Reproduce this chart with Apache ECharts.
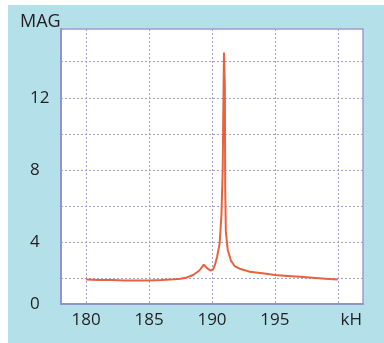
<!DOCTYPE html>
<html><head><meta charset="utf-8">
<script src="https://cdn.jsdelivr.net/npm/echarts@6/dist/echarts.min.js"></script>
<style>
html,body{margin:0;padding:0;background:#ffffff;}
#c{position:absolute;left:8px;top:5px;width:376px;height:338px;}
</style></head>
<body><div id="c"></div>
<script>
const freq = [180,181,182,183,184,185,186,187,187.5,188,188.5,189,189.35,189.6,189.9,190.1,190.25,190.4,190.6,190.75,190.85,190.95,191.02,191.05,191.1,191.25,191.5,191.8,192.2,192.6,193,194,195,196,197,198,199,200];
const mag  = [1.95,1.93,1.92,1.9,1.9,1.9,1.92,1.97,2.0,2.07,2.2,2.45,2.78,2.58,2.45,2.52,2.8,3.2,3.9,5.5,8,14.5,12.7,7,4.6,3.6,3.0,2.7,2.55,2.47,2.38,2.3,2.2,2.15,2.1,2.05,2.0,1.95];
const xTicks = [180,185,190,195,200];
const xLabels = [180,185,190,195];
const yGrid = [2,4,6,8,10,12,14];
const yLabels = [0.6,4,8,12];

const chart = echarts.init(document.getElementById('c'));
const font = 'Open Sans';
chart.setOption({
  backgroundColor: '#b4e0e9',
  animation: false,
  title: {text: 'MAG', left: 7, top: 3, textStyle: {fontFamily: font, fontSize: 18, fontWeight: 'normal', color: '#231f20'}},
  grid: {left: 53, top: 24, right: 21, bottom: 39, show: true, backgroundColor: '#ffffff', borderColor: '#9c9dcf', borderWidth: 1.5, outerBoundsMode: 'none'},
  xAxis: {
    type: 'value', min: 178, max: 202,
    axisLine: {show: true, onZero: false, lineStyle: {color: '#9294c9', width: 2}},
    axisTick: {show: false, customValues: xTicks},
    axisLabel: {customValues: xLabels, margin: 8, fontFamily: font, fontSize: 17, color: '#231f20'},
    splitLine: {show: true, lineStyle: {color: '#9fa0d4', type: [2, 2], width: 1}},
    name: 'kH', nameLocation: 'end', nameGap: -1,
    nameTextStyle: {fontFamily: font, fontSize: 17, color: '#231f20', align: 'right', verticalAlign: 'top', padding: [8, 0, 0, 0]}
  },
  yAxis: {
    type: 'value', min: 0.6, max: 15.8,
    axisLine: {show: true, onZero: false, lineStyle: {color: '#9294c9', width: 2}},
    axisTick: {show: false, customValues: yGrid},
    axisLabel: {customValues: yLabels, margin: 31, align: 'left', padding: [0, 0, 6, 0],
      formatter: v => v < 1 ? '0' : String(v), fontFamily: font, fontSize: 17, color: '#231f20'},
    splitLine: {show: true, lineStyle: {color: '#9fa0d4', type: [2, 2], width: 1}}
  },
  series: [{
    type: 'line', data: freq.map((f, i) => [f, mag[i]]), showSymbol: false,
    lineStyle: {color: '#e8623d', width: 2}, z: 5
  }]
});
</script></body></html>
